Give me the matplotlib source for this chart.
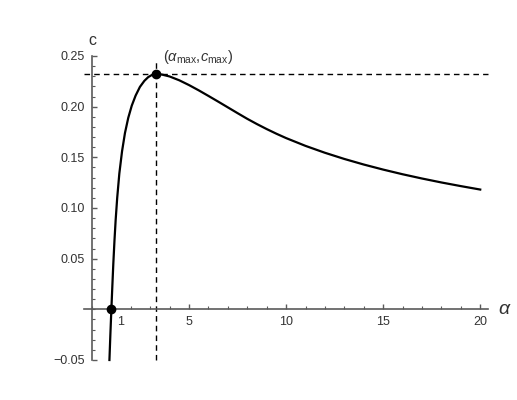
import matplotlib
matplotlib.use("Agg")
import matplotlib.pyplot as plt
import matplotlib.transforms as mtransforms
from matplotlib.ticker import MultipleLocator

plt.rcParams["font.family"] = ["Liberation Sans", "DejaVu Sans"]
plt.rcParams["mathtext.fontset"] = "custom"
plt.rcParams["mathtext.rm"] = "Liberation Sans"
plt.rcParams["mathtext.it"] = "Liberation Sans:italic"

# curve
alpha = [0.90, 0.95, 1.00, 1.05, 1.10, 1.16, 1.22, 1.30, 1.41, 1.55, 1.70,
         1.87, 2.05, 2.25, 2.47, 2.70, 2.90, 3.10, 3.30, 3.60, 4.00, 4.50,
         5.00, 5.50, 6.00, 6.50, 7.00, 7.50, 8.00, 8.50, 9.00, 9.50, 10.0,
         11.0, 12.0, 13.0, 14.0, 15.0, 16.0, 17.0, 18.0, 19.0, 20.0]
c = [-0.050, -0.024, 0.000, 0.023, 0.045, 0.068, 0.088, 0.110, 0.134, 0.156,
     0.174, 0.189, 0.201, 0.211, 0.2195, 0.2255, 0.2292, 0.2314, 0.2322,
     0.2317, 0.2298, 0.2260, 0.2213, 0.2161, 0.2106, 0.2050, 0.1993, 0.1936,
     0.1880, 0.1828, 0.1779, 0.1733, 0.1690, 0.1613, 0.1545, 0.1484, 0.1429,
     0.1379, 0.1333, 0.1291, 0.1252, 0.1216, 0.1182]

alpha_zero, alpha_max, c_max = 1.0, 3.3, 0.2322

xticks = [1, 5, 10, 15, 20]
xticklabels = ["1", "5", "10", "15", "20"]
yticks = [-0.05, 0.05, 0.10, 0.15, 0.20, 0.25]
yticklabels = ["\u22120.05", "0.05", "0.10", "0.15", "0.20", "0.25"]

axis_col = "#5a5a5a"
label_col = "#333333"

fig = plt.figure(figsize=(5.17, 4.0), dpi=100)
ax = fig.add_axes([84 / 517, 40 / 400, 404 / 517, 304 / 400])
ax.set_xlim(-0.41, 20.4)
ax.set_ylim(-0.05, 0.25)

for s in ["top", "right"]:
    ax.spines[s].set_visible(False)
ax.spines["left"].set_position(("data", 0))
ax.spines["bottom"].set_position(("data", 0))
ax.spines["left"].set_bounds(-0.05, 0.25)
for s in ["left", "bottom"]:
    ax.spines[s].set_color(axis_col)
    ax.spines[s].set_linewidth(1.2)

ax.set_xticks(xticks)
ax.set_xticklabels(xticklabels)
ax.set_yticks(yticks)
ax.set_yticklabels(yticklabels)
ax.xaxis.set_minor_locator(MultipleLocator(1))
ax.yaxis.set_minor_locator(MultipleLocator(0.01))
ax.tick_params(which="both", direction="in", color=axis_col, labelcolor=label_col,
               labelsize=9)
ax.tick_params(which="major", length=3.5, width=1)
ax.tick_params(which="minor", length=2, width=0.8)
ax.tick_params(axis="x", pad=5)
ax.tick_params(axis="y", pad=5)

# the "1" label sits to the right of its tick in the reference
lbl = ax.get_xticklabels()[0]
lbl.set_transform(lbl.get_transform() +
                  mtransforms.ScaledTranslation(9 / 100, 0, fig.dpi_scale_trans))

ax.plot(alpha, c, color="black", lw=1.6, clip_on=False, zorder=3)

ax.axhline(c_max, color="black", lw=1, ls=(0, (4, 3)), zorder=2, clip_on=False)
ax.axvline(alpha_max, color="black", lw=1, ls=(0, (4, 3)), zorder=2,
           ymax=0.99, clip_on=False)
ax.plot([alpha_zero, alpha_max], [0, c_max], "o", color="black", ms=6,
        zorder=4, clip_on=False)

ax.annotate(r"($\alpha_{\mathrm{max}}$,$c_{\mathrm{max}}$)", (alpha_max, c_max),
            xytext=(5, 6), textcoords="offset points", fontsize=10.5,
            color=label_col, ha="left", va="bottom")

ax.text(0, 1.025, "c", transform=ax.get_xaxis_transform(), ha="center",
        va="bottom", fontsize=11.5, color=label_col)
ax.text(1.025, 0, r"$\alpha$", transform=ax.get_yaxis_transform(), ha="left",
        va="center", fontsize=14, color=label_col)

fig.savefig("out.png", dpi=100)
